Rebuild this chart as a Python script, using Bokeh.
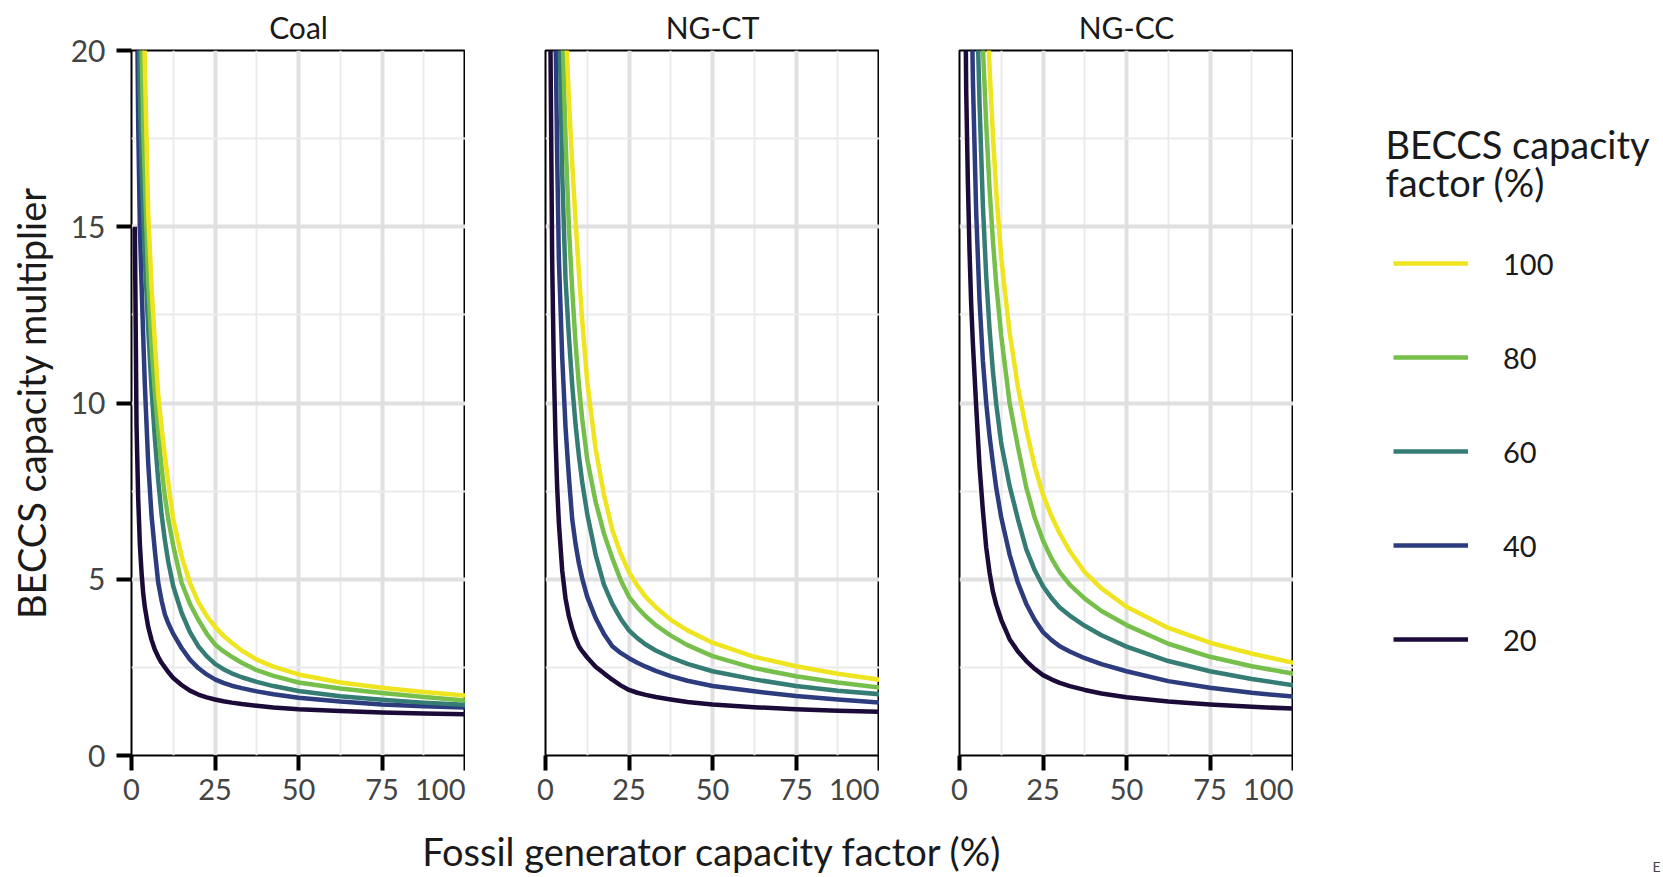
from bokeh.plotting import figure
from bokeh.layouts import row, column
from bokeh.models import Range1d, FixedTicker, Legend, LegendItem, Label
from bokeh.embed import file_html
from bokeh.resources import INLINE

# ---------------- data ----------------
x_cf = [1, 1.5, 2, 2.5, 3, 3.5, 4, 5, 6, 7, 8, 9, 10, 11, 12.5, 15, 17.5, 20,
        22.5, 25, 27.5, 30, 33, 37.5, 42.5, 50, 62.5, 75, 87.5, 100]
beccs_cf = [100, 80, 60, 40, 20]
panel_names = ["Coal", "NG-CT", "NG-CC"]
x_ticks = [0, 25, 50, 75, 100]
y_ticks = [0, 5, 10, 15, 20]

coal_100 = [70, 50, 38, 31, 26, 22.2, 19.6, 15.4, 13.3, 11.7, 10.25, 9.3, 8.5, 7.75, 6.7, 5.65, 4.9, 4.35, 3.96, 3.65, 3.40, 3.2, 2.98, 2.72, 2.52, 2.3, 2.07, 1.92, 1.8, 1.7]
coal_80 = [58, 40, 30, 24.5, 20.3, 17.8, 16.3, 13.5, 11.6, 10.3, 9.2, 8.16, 7.35, 6.71, 5.95, 4.9, 4.3, 3.85, 3.46, 3.15, 2.96, 2.8, 2.63, 2.42, 2.26, 2.07, 1.9, 1.77, 1.66, 1.56]
coal_60 = [45, 31, 23.5, 18.8, 16.8, 15.3, 14.1, 12.1, 10.4, 9.0, 7.8, 6.84, 6.1, 5.5, 4.8, 4.05, 3.5, 3.1, 2.82, 2.6, 2.45, 2.33, 2.22, 2.09, 1.97, 1.83, 1.68, 1.58, 1.5, 1.44]
coal_40 = [34, 23, 18, 15.0, 13.4, 11.9, 10.5, 8.3, 6.8, 5.8, 4.9, 4.40, 4.0, 3.75, 3.45, 3.05, 2.72, 2.48, 2.30, 2.16, 2.06, 1.98, 1.91, 1.82, 1.74, 1.64, 1.53, 1.45, 1.4, 1.36]
coal_20 = [15, 9.4, 7.3, 6.0, 5.2, 4.6, 4.2, 3.65, 3.28, 3.0, 2.8, 2.63, 2.5, 2.37, 2.2, 2.0, 1.84, 1.73, 1.65, 1.59, 1.54, 1.5, 1.46, 1.41, 1.36, 1.31, 1.26, 1.22, 1.19, 1.17]

ngct_100 = [110, 75, 56, 45, 38, 32.5, 28.5, 24.2, 20.9, 18.6, 16.8, 15.15, 13.7, 12.32, 10.6, 8.7, 7.4, 6.4, 5.73, 5.2, 4.82, 4.5, 4.21, 3.85, 3.55, 3.2, 2.8, 2.53, 2.32, 2.15]
ngct_80 = [95, 63, 48, 38.5, 32, 27.5, 24.5, 20.9, 17.5, 15.0, 13.2, 11.69, 10.5, 9.54, 8.4, 7.2, 6.3, 5.6, 4.98, 4.5, 4.2, 3.95, 3.70, 3.4, 3.13, 2.82, 2.48, 2.25, 2.07, 1.93]
ngct_60 = [80, 54, 41, 33, 28, 24.5, 21.6, 16.5, 13.5, 11.9, 10.5, 9.38, 8.5, 7.75, 6.85, 5.7, 4.85, 4.3, 3.88, 3.55, 3.33, 3.15, 2.98, 2.78, 2.6, 2.39, 2.16, 1.97, 1.84, 1.74]
ngct_40 = [58, 38, 30, 25, 20.6, 17.0, 14.1, 11.3, 9.3, 7.9, 6.7, 6.0, 5.45, 5.02, 4.5, 3.9, 3.45, 3.1, 2.91, 2.76, 2.63, 2.52, 2.40, 2.25, 2.12, 1.97, 1.82, 1.69, 1.59, 1.5]
ngct_20 = [32, 20, 14.0, 11.0, 9.0, 7.6, 6.6, 5.25, 4.45, 3.95, 3.6, 3.32, 3.1, 2.96, 2.78, 2.52, 2.33, 2.15, 1.99, 1.86, 1.78, 1.72, 1.66, 1.59, 1.52, 1.45, 1.37, 1.31, 1.27, 1.24]

ngcc_100 = [150, 100, 78, 63, 53, 46, 41, 33.5, 28.5, 24.8, 21.9, 19.5, 17.6, 16.0, 14.1, 12.0, 10.45, 9.25, 8.21, 7.4, 6.8, 6.3, 5.8, 5.2, 4.74, 4.22, 3.62, 3.2, 2.89, 2.63]
ngcc_80 = [130, 88, 66, 53, 44.5, 38.5, 34, 27.6, 23.3, 20.1, 17.9, 16.07, 14.6, 13.37, 11.9, 10.0, 8.75, 7.6, 6.75, 6.1, 5.6, 5.2, 4.85, 4.45, 4.1, 3.7, 3.17, 2.8, 2.53, 2.32]
ngcc_60 = [105, 70, 53, 43, 36, 31, 27.3, 22.2, 18.5, 15.6, 13.6, 12.09, 10.9, 9.97, 8.85, 7.65, 6.7, 5.85, 5.26, 4.8, 4.47, 4.2, 3.97, 3.68, 3.41, 3.09, 2.68, 2.39, 2.17, 1.99]
ngcc_40 = [78, 52, 39, 31.5, 26, 22.4, 19.2, 15.4, 12.9, 11.2, 10.0, 9.06, 8.3, 7.59, 6.75, 5.7, 4.9, 4.3, 3.85, 3.5, 3.28, 3.1, 2.95, 2.76, 2.59, 2.39, 2.11, 1.92, 1.78, 1.67]
ngcc_20 = [38, 24.5, 18.9, 16.3, 14.3, 12.8, 11.7, 9.9, 8.2, 6.95, 5.9, 5.19, 4.65, 4.28, 3.85, 3.3, 2.95, 2.68, 2.46, 2.28, 2.16, 2.06, 1.97, 1.86, 1.76, 1.65, 1.53, 1.45, 1.38, 1.33]

series_by_panel = {
    "Coal": [coal_100, coal_80, coal_60, coal_40, coal_20],
    "NG-CT": [ngct_100, ngct_80, ngct_60, ngct_40, ngct_20],
    "NG-CC": [ngcc_100, ngcc_80, ngcc_60, ngcc_40, ngcc_20],
}
colors = ["#eee41f", "#77bf4b", "#357d74", "#2c3c7e", "#1c0b38"]

FONT = "Lato"
PAGE_W, PAGE_H = 1663, 877
BOTTOM_H = 60         # strip below the panels (shared x title)
FRAME_W, FRAME_H = 334, 705
FRAME_TOP = 50        # page y of the panels' top edge
TOP_B = FRAME_TOP
ROW_H = PAGE_H - BOTTOM_H
BOT_B = ROW_H - TOP_B - FRAME_H
LEFT_B = [131, 80, 80]


def make_panel(name, border_left, show_y):
    p = figure(frame_width=FRAME_W, frame_height=FRAME_H,
               x_range=Range1d(0, 100), y_range=Range1d(0, 20),
               output_backend="svg", toolbar_location=None, tools="",
               min_border_left=border_left, min_border_right=0,
               min_border_top=TOP_B, min_border_bottom=BOT_B)
    p.background_fill_color = "white"
    p.border_fill_color = "white"
    p.outline_line_color = "black"
    p.outline_line_width = 2
    p.outline_line_alpha = 1

    p.title.text = name
    p.title.align = "center"
    p.title.vertical_align = "middle"
    p.title.text_font = FONT
    p.title.text_font_size = "30px"
    p.title.text_font_style = "normal"
    p.title.text_color = "#1a1a1a"
    p.title.standoff = 10

    p.xgrid.ticker = FixedTicker(ticks=[25, 50, 75], minor_ticks=[12.5, 37.5, 62.5, 87.5])
    p.ygrid.ticker = FixedTicker(ticks=[5, 10, 15], minor_ticks=[2.5, 7.5, 12.5, 17.5])
    for g in (p.xgrid, p.ygrid):
        g.grid_line_color = "#e0e0e0"
        g.grid_line_width = 4
        g.minor_grid_line_color = "#ebebeb"
        g.minor_grid_line_width = 2

    xa = p.xaxis[0]
    xa.ticker = FixedTicker(ticks=x_ticks)
    xa.axis_line_color = None
    xa.major_tick_out = 15
    xa.major_tick_in = 0
    xa.major_tick_line_width = 4
    xa.major_tick_line_color = "black"
    xa.minor_tick_out = 0
    xa.minor_tick_in = 0
    xa.major_label_text_font = FONT
    xa.major_label_text_font_size = "29px"
    xa.major_label_text_color = "#444444"
    xa.major_label_standoff = 8

    ya = p.yaxis[0]
    if show_y:
        ya.ticker = FixedTicker(ticks=y_ticks)
        ya.axis_line_color = None
        ya.major_tick_out = 15
        ya.major_tick_in = 0
        ya.major_tick_line_width = 4
        ya.major_tick_line_color = "black"
        ya.minor_tick_out = 0
        ya.minor_tick_in = 0
        ya.major_label_text_font = FONT
        ya.major_label_text_font_size = "30px"
        ya.major_label_text_color = "#444444"
        ya.major_label_standoff = 11
        ya.axis_label = "BECCS capacity multiplier"
        ya.axis_label_text_font = FONT
        ya.axis_label_text_font_size = "38px"
        ya.axis_label_text_font_style = "normal"
        ya.axis_label_text_color = "#1a1a1a"
        ya.axis_label_standoff = 14
    else:
        ya.visible = False

    vals = series_by_panel[name]
    for i in reversed(range(len(beccs_cf))):
        p.line(x_cf, vals[i], line_color=colors[i], line_width=4.5, line_join="round")
    return p


panels = [make_panel(n, b, i == 0) for i, (n, b) in enumerate(zip(panel_names, LEFT_B))]

# ---------------- legend panel (y in page px from the top) ----------------
LW = PAGE_W - sum(LEFT_B) - 3 * FRAME_W
lf = figure(frame_width=LW, frame_height=FRAME_H,
            x_range=Range1d(0, LW), y_range=Range1d(FRAME_TOP + FRAME_H, FRAME_TOP),
            output_backend="svg", toolbar_location=None, tools="",
            x_axis_type=None, y_axis_type=None,
            min_border_left=0, min_border_right=0,
            min_border_top=TOP_B, min_border_bottom=BOT_B)
lf.outline_line_color = None
lf.background_fill_color = "white"
lf.border_fill_color = "white"

items = []
for lab, c in zip(beccs_cf, colors):
    # off-screen sample line: only its style is used by the legend
    r = lf.line(x=[-50, -40], y=[-50, -50], line_color=c, line_width=4.5)
    items.append(LegendItem(label=str(lab), renderers=[r]))

ITEM_H, GAP = 36, 58
leg_h = 5 * ITEM_H + 4 * GAP
leg_top = 263 - ITEM_H / 2
legend = Legend(items=items, location=(100, int(round(FRAME_TOP + FRAME_H - (leg_top + leg_h)))),
                orientation="vertical",
                glyph_width=75, glyph_height=ITEM_H, label_height=ITEM_H, spacing=GAP,
                padding=0, margin=0, border_line_color=None,
                background_fill_alpha=0, label_standoff=35,
                label_text_font=FONT, label_text_font_size="29px",
                label_text_color="#1a1a1a")
lf.add_layout(legend)

for txt, yy in (("BECCS capacity", 143), ("factor (%)", 181)):
    lf.add_layout(Label(x=92, y=yy, text=txt, text_font=FONT, text_font_size="38px",
                        text_color="#1a1a1a", text_baseline="middle", text_align="left"))

# panel centres on the page
centres = []
left = 0
for b in LEFT_B:
    centres.append(left + b + FRAME_W / 2)
    left += b + FRAME_W

# ---------------- bottom strip: shared x-axis title ----------------
pb = figure(width=PAGE_W, height=BOTTOM_H,
            x_range=Range1d(0, PAGE_W), y_range=Range1d(PAGE_H, PAGE_H - BOTTOM_H),
            output_backend="svg", toolbar_location=None, tools="",
            x_axis_type=None, y_axis_type=None, min_border=0)
pb.outline_line_color = None
pb.background_fill_color = "white"
pb.border_fill_color = "white"
pb.add_layout(Label(x=centres[1], y=850,
                    text="Fossil generator capacity factor (%)", text_font=FONT,
                    text_font_size="38px", text_color="#1a1a1a",
                    text_baseline="middle", text_align="center"))
pb.add_layout(Label(x=1652, y=874, text="E", text_font=FONT, text_font_size="14px",
                    text_color="#444444", text_baseline="bottom", text_align="left"))

layout = column(row(*panels, lf), pb)
open("out.html", "w").write(file_html(layout, INLINE))
